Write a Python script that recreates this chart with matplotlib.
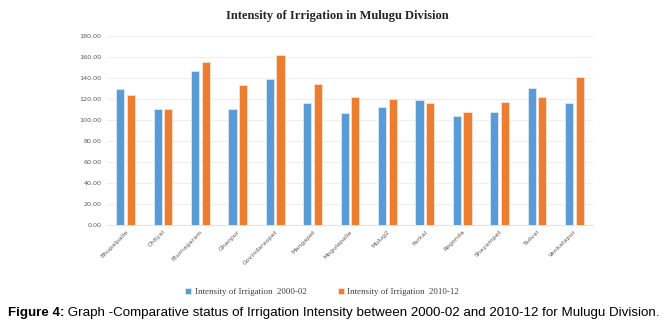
import matplotlib
matplotlib.use("Agg")
import matplotlib.pyplot as plt
import numpy as np

categories = ["Bhupalpalle", "Chityal", "Eturnagaram", "Ghanpur", "Govindaraopet",
              "Mangapet", "Mogulapalle", "Mulug2", "Parkal", "Regonda",
              "Shayampet", "Tadvai", "Venkatapur"]
values_2000 = [129.5, 110.6, 146.5, 110.0, 139.0, 116.3, 106.8, 111.9, 118.5, 103.9, 107.7, 130.0, 116.3]
values_2010 = [123.3, 110.6, 155.3, 133.0, 162.0, 133.7, 122.0, 119.5, 116.0, 107.1, 116.6, 122.0, 140.7]
series_labels = ["Intensity of Irrigation  2000-02", "Intensity of Irrigation  2010-12"]
yticks = [0, 20, 40, 60, 80, 100, 120, 140, 160, 180]

blue = "#5B9BD5"
orange = "#ED7D31"
tick_color = "#595959"

fig = plt.figure(figsize=(6.68, 3.28), dpi=100)
ax = fig.add_axes([107/668, 1-225/328, (593-107)/668, (225-35.7)/328])

x = np.arange(len(categories))
w = 0.22
off = 0.142
ax.bar(x - off, values_2000, width=w, color=blue, edgecolor="#DCE9F6", linewidth=0.6,
       label=series_labels[0], zorder=3)
ax.bar(x + off, values_2010, width=w, color=orange, edgecolor="#FBE0CF", linewidth=0.6,
       label=series_labels[1], zorder=3)

ax.set_xlim(-0.5, len(categories) - 0.5)
ax.set_ylim(0, 180)
ax.set_yticks(yticks)
ax.set_yticklabels([f"{v:.2f}" for v in yticks], fontsize=4.6, color=tick_color,
                   family="DejaVu Sans")
ax.set_xticks(x)
ax.set_xticklabels(categories, rotation=45, ha="right", rotation_mode="anchor",
                   fontsize=4.5, color=tick_color)
ax.tick_params(axis="both", length=0, pad=4)
ax.tick_params(axis="x", pad=3)
ax.grid(axis="y", color="#EDEFF3", linewidth=0.8, zorder=0)
for s in ["top", "right", "left"]:
    ax.spines[s].set_visible(False)
ax.spines["bottom"].set_color("#E2E4E8")
ax.spines["bottom"].set_linewidth(0.8)

fig.text(337/668, 1-16/328, "Intensity of Irrigation in Mulugu Division",
         ha="center", va="center", fontsize=9, fontweight="bold",
         family="Liberation Serif", color="#262626")

handles, labels = ax.get_legend_handles_labels()
leg = fig.legend(handles, labels, loc="center", bbox_to_anchor=(322/668, 1-292/328),
                 ncol=2, frameon=False, handlelength=0.7, handleheight=0.7,
                 handletextpad=0.4, columnspacing=3.5,
                 prop={"family": "Liberation Serif", "size": 6.4})
for t in leg.get_texts():
    t.set_color("#404040")

# Caption: fit width from x=8 to x=662
renderer = fig.canvas.get_renderer()
cap_y = 1 - 313/328
fs = 9.5
t1 = fig.text(8/668, cap_y, "Figure 4:", ha="left", va="center", fontsize=fs,
              fontweight="bold", family="Liberation Sans", color="black")
t2 = fig.text(0, cap_y, " Graph -Comparative status of Irrigation Intensity between 2000-02 and 2010-12 for Mulugu Division.",
              ha="left", va="center", fontsize=fs, family="Liberation Sans", color="black")
w1 = t1.get_window_extent(renderer).width
w2 = t2.get_window_extent(renderer).width
scale = (662 - 8) / (w1 + w2)
fs2 = fs * scale
t1.set_fontsize(fs2)
t2.set_fontsize(fs2)
w1 = t1.get_window_extent(renderer).width
t2.set_x((8 + w1) / 668)

fig.savefig("out.png", dpi=100)
